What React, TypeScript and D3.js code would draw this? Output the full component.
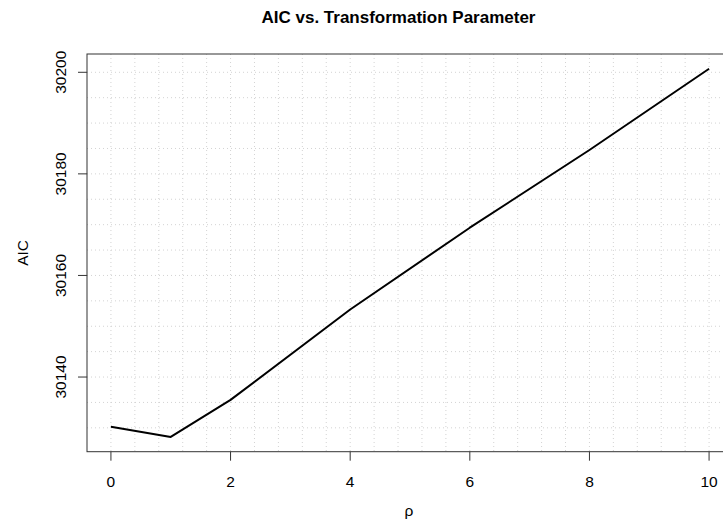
import React from 'react'
import * as d3 from 'd3'

const rho = [0, 1, 2, 4, 6, 8, 10]
const aic = [30130.2, 30128.2, 30135.5, 30153.3, 30169.4, 30184.7, 30200.7]
const xTicks = [0, 2, 4, 6, 8, 10]
const yTicks = [30140, 30160, 30180, 30200]

const W = 723
const H = 525
const left = 87
const right = 733
const top = 54
const bottom = 451.7

export default function App() {
  // R style: 4% padding round the data range
  const xPad = (d3.max(rho)! - d3.min(rho)!) * 0.04
  const yPad = (d3.max(aic)! - d3.min(aic)!) * 0.04
  const xDom: [number, number] = [d3.min(rho)! - xPad, d3.max(rho)! + xPad]
  const yDom: [number, number] = [d3.min(aic)! - yPad, d3.max(aic)! + yPad]

  const x = d3.scaleLinear().domain(xDom).range([left, right])
  const y = d3.scaleLinear().domain(yDom).range([bottom, top])

  const line = d3.line<number>()
    .x((d, i) => x(rho[i]))
    .y(d => y(d))

  // grid: 0.4 steps across, 5 steps up
  const vGrid = d3.range(0, xDom[1], 0.4)
  const hGrid = d3.range(Math.ceil(yDom[0] / 5) * 5, yDom[1], 5).filter(v => y(v) < bottom - 1)

  const font = 'Liberation Sans, Arial, sans-serif'

  return (
    <svg width={W} height={H} style={{position: 'absolute', left: 0, top: 0, background: '#fff'}}>
      <rect x={0} y={0} width={W} height={H} fill="#fff" />
      <g stroke="#d3d3d3" strokeWidth={1} strokeDasharray="1 3">
        {vGrid.map((v, i) => (
          <line key={'v' + i} x1={x(v)} x2={x(v)} y1={top} y2={bottom} />
        ))}
        {hGrid.map((v, i) => (
          <line key={'h' + i} x1={left} x2={right} y1={y(v)} y2={y(v)} />
        ))}
      </g>
      <path d={line(aic) || ''} fill="none" stroke="#000" strokeWidth={2} strokeLinejoin="round" />
      <rect x={left} y={top} width={right - left} height={bottom - top} fill="none" stroke="#333" strokeWidth={1} />
      <g stroke="#333" strokeWidth={1}>
        {xTicks.map(t => (
          <line key={'xt' + t} x1={x(t)} x2={x(t)} y1={bottom} y2={bottom + 9} />
        ))}
        {yTicks.map(t => (
          <line key={'yt' + t} x1={left} x2={left - 9} y1={y(t)} y2={y(t)} />
        ))}
      </g>
      <g fontFamily={font} fontSize={15.5} fill="#000">
        {xTicks.map(t => (
          <text key={'xl' + t} x={x(t)} y={487} textAnchor="middle">{t}</text>
        ))}
        {yTicks.map(t => (
          <text key={'yl' + t} transform={`translate(66,${y(t)}) rotate(-90)`} textAnchor="middle">{t}</text>
        ))}
        <text x={409} y={516} textAnchor="middle">ρ</text>
        <text transform={`translate(28,${(top + bottom) / 2}) rotate(-90)`} textAnchor="middle">AIC</text>
      </g>
      <text x={398.5} y={22.7} textAnchor="middle" fontFamily={font} fontSize={17} fontWeight="bold">
        AIC vs. Transformation Parameter
      </text>
    </svg>
  )
}
